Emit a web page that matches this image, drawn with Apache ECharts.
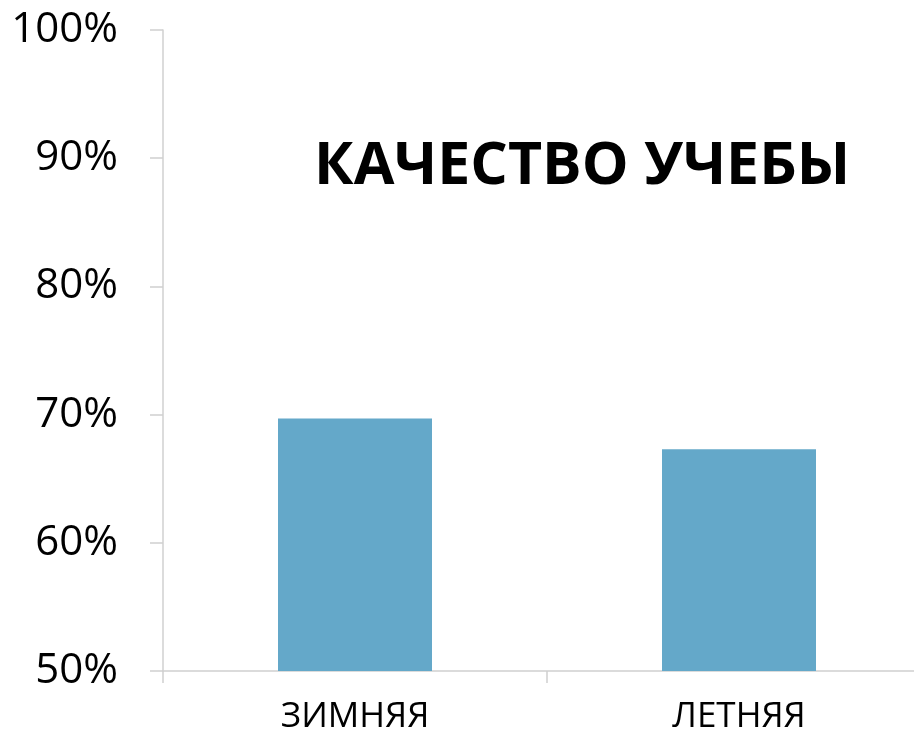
<!DOCTYPE html>
<html><head><meta charset="utf-8">
<script src="https://cdn.jsdelivr.net/npm/echarts@6/dist/echarts.min.js"></script>
<style>html,body{margin:0;padding:0;background:#fff;overflow:hidden;width:914px;height:735px;}#c{width:931px;height:735px;}</style>
</head><body><div id="c"></div>
<script>
const titleText = 'КАЧЕСТВО УЧЕБЫ';
const categories = ['ЗИМНЯЯ', 'ЛЕТНЯЯ'];
const values = [0.697, 0.673];
const yMin = 0.5, yMax = 1.0, yStep = 0.1;

const chart = echarts.init(document.getElementById('c'));
chart.setOption({
  animation: false,
  backgroundColor: '#ffffff',
  title: {
    text: titleText,
    left: 309, top: 133,
    textStyle: {fontFamily: 'Open Sans', fontWeight: 'bold', fontSize: 59, color: '#000'}
  },
  grid: {left: 163, right: 0, top: 30, bottom: 62, containLabel: false},
  xAxis: {
    type: 'category', data: categories,
    axisLine: {lineStyle: {color: '#d0d0d0', width: 1.5}},
    axisTick: {show: true, length: 12, lineStyle: {color: '#d0d0d0', width: 1.5}},
    axisLabel: {fontFamily: 'Open Sans', fontSize: 35, color: '#000', margin: 29}
  },
  yAxis: {
    type: 'value', min: yMin, max: yMax, interval: yStep,
    axisLine: {show: true, lineStyle: {color: '#d0d0d0', width: 1.5}},
    axisTick: {show: true, length: 13, lineStyle: {color: '#d0d0d0', width: 1.5}},
    splitLine: {show: false},
    axisLabel: {fontFamily: 'Open Sans', fontSize: 42, color: '#000', margin: 45,
      formatter: v => Math.round(v * 100) + '%'}
  },
  series: [{
    type: 'bar', data: values, barWidth: 154,
    itemStyle: {color: '#64a8c9'}
  }]
});
</script></body></html>
